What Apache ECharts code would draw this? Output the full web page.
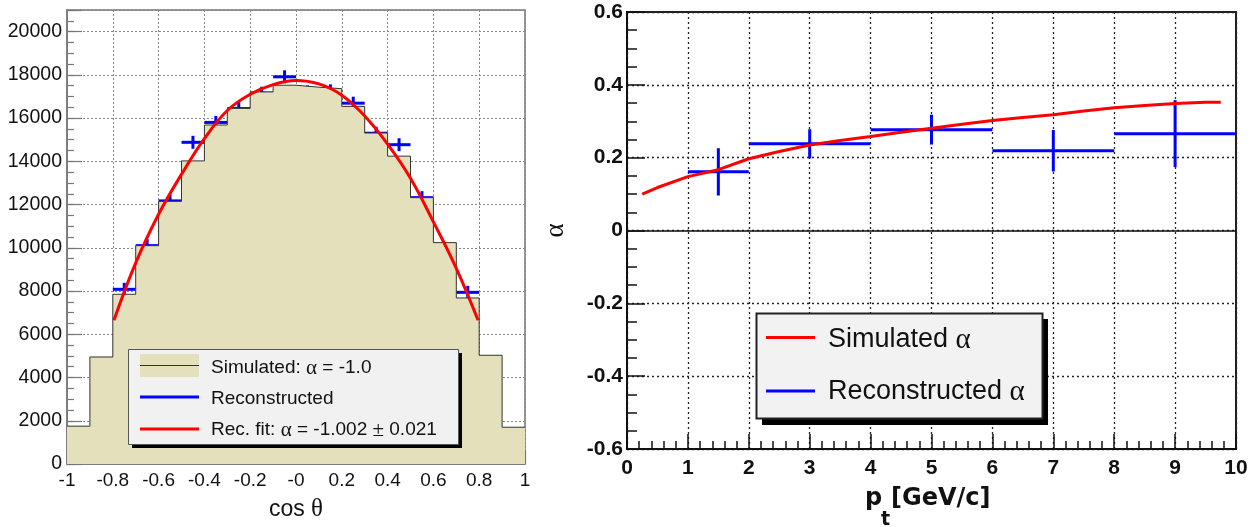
<!DOCTYPE html>
<html>
<head>
<meta charset="utf-8">
<title>cos theta / alpha vs pt</title>
<script src="https://cdn.jsdelivr.net/npm/echarts@6/dist/echarts.min.js"></script>
<style>
  html, body { margin: 0; padding: 0; background: #fff; }
  #chart { width: 1257px; height: 527px; }
</style>
</head>
<body>
<div id="chart"></div>
<script>
// ---- left panel: cos(theta) distribution ----
var binEdges = [-1, -0.9, -0.8, -0.7, -0.6, -0.5, -0.4, -0.3, -0.2, -0.1, 0, 0.1, 0.2, 0.3, 0.4, 0.5, 0.6, 0.7, 0.8, 0.9];
var simCounts = [1750, 4950, 7850, 10100, 12150, 14020, 15680, 16450, 17210, 17520, 17430, 17360, 16540, 15310, 14240, 12320, 10240, 7680, 5030, 1700];
var recoX = [-0.75, -0.65, -0.55, -0.45, -0.35, -0.25, -0.15, -0.05, 0.05, 0.15, 0.25, 0.35, 0.45, 0.55, 0.65, 0.75];
var recoCounts = [8080, 10100, 12170, 14880, 15800, 16440, 17150, 17910, 17210, 17260, 16690, 15300, 14770, 12320, 9680, 7940];
var recoErr = [300, 300, 300, 300, 300, 300, 300, 300, 300, 300, 300, 300, 300, 300, 300, 300];
var fitX = [-0.795, -0.7, -0.6, -0.5, -0.4, -0.3, -0.2, -0.1, 0, 0.1, 0.2, 0.3, 0.4, 0.5, 0.6, 0.7, 0.795];
var fitY = [6650, 9300, 11550, 13400, 15050, 16350, 17100, 17550, 17740, 17580, 17060, 16100, 14800, 13220, 11200, 9050, 6650];
var cosTickLabels = ['-1', '-0.8', '-0.6', '-0.4', '-0.2', '-0', '0.2', '0.4', '0.6', '0.8', '1'];

// ---- right panel: alpha vs pt ----
var ptCenters = [1.5, 3, 5, 7, 9];
var ptHalfWidth = [0.5, 1, 1, 1, 1];
var alphaReco = [0.161, 0.238, 0.277, 0.219, 0.266];
var alphaErr = [0.065, 0.040, 0.041, 0.057, 0.092];
var simPt = [0.25, 0.5, 1, 1.5, 2, 2.5, 3, 3.5, 4, 4.5, 5, 5.5, 6, 6.5, 7, 7.5, 8, 8.5, 9, 9.5, 9.75];
var simAlpha = [0.100, 0.118, 0.148, 0.167, 0.197, 0.217, 0.235, 0.247, 0.258, 0.270, 0.281, 0.292, 0.302, 0.310, 0.318, 0.328, 0.337, 0.343, 0.349, 0.352, 0.352];
var alphaTickLabels = ['-0.6', '-0.4', '-0.2', '0', '0.2', '0.4', '0.6'];

var SANS = 'Liberation Sans, Arial, sans-serif';
var SERIF = 'Liberation Serif, Times New Roman, serif';
var BEIGE = '#e3e0bb';

var chart = echarts.init(document.getElementById('chart'));

// draws an error cross: horizontal bin width + vertical error
function crossItem(params, api) {
    var x = api.value(0), y = api.value(1), dx = api.value(2), dy = api.value(3);
    var l = api.coord([x - dx, y]), r = api.coord([x + dx, y]);
    var t = api.coord([x, y + dy]), b = api.coord([x, y - dy]);
    var style = { stroke: '#0000ff', lineWidth: 3 };
    return {
        type: 'group',
        children: [
            { type: 'line', shape: { x1: l[0], y1: l[1], x2: r[0], y2: r[1] }, style: style },
            { type: 'line', shape: { x1: t[0], y1: t[1], x2: b[0], y2: b[1] }, style: style }
        ]
    };
}

var histData = binEdges.map(function (e, i) { return [e, simCounts[i]]; });
histData.push([1, simCounts[simCounts.length - 1]]);

var leftAxisColor = '#777';
var option = {
    animation: false,
    backgroundColor: '#fff',
    grid: [
        { left: 67, top: 10, width: 458, height: 457, show: true, borderColor: leftAxisColor, borderWidth: 1.5, backgroundColor: '#fff' },
        { left: 627, top: 12, width: 609, height: 437, show: true, borderColor: '#222', borderWidth: 2, backgroundColor: '#fff' }
    ],
    xAxis: [
        {
            gridIndex: 0, type: 'value', min: -1, max: 1, interval: 0.2,
            axisLine: { onZero: false, lineStyle: { color: leftAxisColor, width: 1.5 } },
            axisTick: { inside: true, length: 14, lineStyle: { color: leftAxisColor, width: 1.2 } },
            minorTick: { show: true, splitNumber: 4, length: 7, lineStyle: { color: leftAxisColor, width: 1.2 } },
            axisLabel: {
                fontSize: 19, fontFamily: SANS, color: '#111', margin: 7,
                formatter: function (v) { return cosTickLabels[Math.round((v + 1) / 0.2)]; }
            },
            splitLine: { show: true, lineStyle: { type: [2, 2], color: '#888', width: 1 } },
            name: '{a|cos }{b|θ}', nameLocation: 'middle', nameGap: 33,
            nameTextStyle: {
                rich: {
                    a: { fontSize: 23, fontFamily: SANS, color: '#111' },
                    b: { fontSize: 25, fontFamily: SERIF, color: '#111' }
                }
            }
        },
        {
            gridIndex: 1, type: 'value', min: 0, max: 10, interval: 1,
            axisLine: { onZero: false, lineStyle: { color: '#111', width: 2 } },
            axisTick: { inside: true, length: 15, lineStyle: { color: '#111', width: 1.5 } },
            minorTick: { show: true, splitNumber: 5, length: 8, lineStyle: { color: '#111', width: 1.5 } },
            axisLabel: { fontSize: 21, fontFamily: SANS, fontWeight: 'bold', color: '#111', margin: 9 },
            splitLine: { show: true, lineStyle: { type: [2, 3], color: '#222', width: 1.3 } }
        }
    ],
    yAxis: [
        {
            gridIndex: 0, type: 'value', position: 'left', min: 0, max: 21000, interval: 2000,
            axisLine: { show: true, onZero: false, lineStyle: { color: leftAxisColor, width: 1.5 } },
            axisTick: { inside: true, length: 15, lineStyle: { color: leftAxisColor, width: 1.2 } },
            axisLabel: {
                fontSize: 19.5, fontFamily: SANS, color: '#111', margin: 5, padding: [4, 0, 0, 0],
                formatter: function (v) { return (v % 2000 === 0 && v <= 20000) ? String(v) : ''; }
            },
            splitLine: { show: true, lineStyle: { type: [2, 2], color: '#888', width: 1 } }
        },
        {
            // secondary ticks every 500
            gridIndex: 0, type: 'value', position: 'left', min: 0, max: 21000, interval: 500,
            axisLine: { show: false, onZero: false },
            axisTick: { show: true, inside: true, length: 7, lineStyle: { color: leftAxisColor, width: 1.2 } },
            axisLabel: { show: false },
            splitLine: { show: false }
        },
        {
            gridIndex: 1, type: 'value', position: 'left', min: -0.6, max: 0.6, interval: 0.2,
            axisLine: { show: true, onZero: false, lineStyle: { color: '#111', width: 2 } },
            axisTick: { inside: true, length: 18, lineStyle: { color: '#111', width: 1.5 } },
            minorTick: { show: true, splitNumber: 4, length: 10, lineStyle: { color: '#111', width: 1.5 } },
            axisLabel: {
                fontSize: 21, fontFamily: SANS, fontWeight: 'bold', color: '#111', margin: 4, padding: [6, 0, 0, 0],
                formatter: function (v) { return alphaTickLabels[Math.round((v + 0.6) / 0.2)]; }
            },
            splitLine: { show: true, lineStyle: { type: [2, 3], color: '#222', width: 1.3 } },
            name: 'α', nameLocation: 'middle', nameRotate: 90, nameGap: 58,
            nameTextStyle: { fontSize: 27, fontFamily: SERIF, color: '#111' }
        }
    ],
    series: [
        {
            name: 'Simulated', type: 'line', xAxisIndex: 0, yAxisIndex: 0,
            step: 'end', symbol: 'none', data: histData,
            lineStyle: { color: '#333', width: 1 },
            areaStyle: { color: BEIGE, opacity: 1 }
        },
        {
            name: 'Reconstructed', type: 'custom', xAxisIndex: 0, yAxisIndex: 0,
            renderItem: crossItem,
            data: recoX.map(function (x, i) { return [x, recoCounts[i], 0.05, recoErr[i]]; })
        },
        {
            name: 'Rec. fit', type: 'line', xAxisIndex: 0, yAxisIndex: 0,
            smooth: 0.4, symbol: 'none',
            data: fitX.map(function (x, i) { return [x, fitY[i]]; }),
            lineStyle: { color: '#ff0000', width: 3 }
        },
        {
            name: 'Reconstructed alpha', type: 'custom', xAxisIndex: 1, yAxisIndex: 2,
            renderItem: crossItem,
            data: ptCenters.map(function (x, i) { return [x, alphaReco[i], ptHalfWidth[i], alphaErr[i]]; })
        },
        {
            name: 'Simulated alpha', type: 'line', xAxisIndex: 1, yAxisIndex: 2,
            symbol: 'none',
            data: simPt.map(function (x, i) { return [x, simAlpha[i]]; }),
            lineStyle: { color: '#ff0000', width: 3 },
            markLine: {
                silent: true, symbol: ['none', 'none'], label: { show: false },
                lineStyle: { color: '#111', width: 1.5, type: 'solid' },
                data: [{ yAxis: 0 }]
            }
        }
    ],
    graphic: [
        // left legend
        { type: 'rect', z: 100, shape: { x: 132, y: 353, width: 330, height: 95 }, style: { fill: '#000' } },
        { type: 'rect', z: 101, shape: { x: 128.5, y: 349.5, width: 330, height: 95 }, style: { fill: '#f1f1f1', stroke: '#555', lineWidth: 1 } },
        { type: 'rect', z: 102, shape: { x: 140, y: 354, width: 59, height: 23 }, style: { fill: BEIGE } },
        { type: 'line', z: 103, shape: { x1: 140, y1: 365.5, x2: 199, y2: 365.5 }, style: { stroke: '#333', lineWidth: 1 } },
        { type: 'line', z: 103, shape: { x1: 140, y1: 397, x2: 199, y2: 397 }, style: { stroke: '#0000ff', lineWidth: 3 } },
        { type: 'line', z: 103, shape: { x1: 140, y1: 429, x2: 199, y2: 429 }, style: { stroke: '#ff0000', lineWidth: 3 } },
        {
            type: 'text', z: 103, x: 211, y: 368,
            style: {
                text: '{n|Simulated: }{g|α}{n| = -1.0}', verticalAlign: 'middle',
                rich: { n: { fontSize: 19, fontFamily: SANS, fill: '#111' }, g: { fontSize: 21, fontFamily: SERIF, fill: '#111' } }
            }
        },
        {
            type: 'text', z: 103, x: 211, y: 398.5,
            style: { text: 'Reconstructed', verticalAlign: 'middle', fontSize: 19, fontFamily: SANS, fill: '#111' }
        },
        {
            type: 'text', z: 103, x: 211, y: 430,
            style: {
                text: '{n|Rec. fit: }{g|α}{n| = -1.002 }{g|±}{n| 0.021}', verticalAlign: 'middle',
                rich: { n: { fontSize: 19, fontFamily: SANS, fill: '#111' }, g: { fontSize: 21, fontFamily: SERIF, fill: '#111' } }
            }
        },
        // right legend
        { type: 'rect', z: 100, shape: { x: 762, y: 319, width: 286, height: 106 }, style: { fill: '#000' } },
        { type: 'rect', z: 101, shape: { x: 756.5, y: 313.5, width: 286, height: 105 }, style: { fill: '#f2f2f2', stroke: '#222', lineWidth: 2 } },
        { type: 'line', z: 103, shape: { x1: 766, y1: 337.5, x2: 815, y2: 337.5 }, style: { stroke: '#ff0000', lineWidth: 3 } },
        { type: 'line', z: 103, shape: { x1: 766, y1: 391, x2: 815, y2: 391 }, style: { stroke: '#0000ff', lineWidth: 3 } },
        {
            type: 'text', z: 103, x: 828, y: 340,
            style: {
                text: '{n|Simulated }{g|α}', verticalAlign: 'middle',
                rich: { n: { fontSize: 27, fontFamily: SANS, fill: '#111' }, g: { fontSize: 29, fontFamily: SERIF, fill: '#111' } }
            }
        },
        {
            type: 'text', z: 103, x: 828, y: 392,
            style: {
                text: '{n|Reconstructed }{g|α}', verticalAlign: 'middle',
                rich: { n: { fontSize: 27, fontFamily: SANS, fill: '#111' }, g: { fontSize: 29, fontFamily: SERIF, fill: '#111' } }
            }
        },
        // right x axis title: p_t [GeV/c]
        { type: 'text', z: 103, x: 865, y: 499, style: { text: 'p', verticalAlign: 'middle', fontSize: 24, fontWeight: 'bold', fontFamily: 'DejaVu Sans, sans-serif', fill: '#111' } },
        { type: 'text', z: 103, x: 881, y: 520, style: { text: 't', verticalAlign: 'middle', fontSize: 19, fontWeight: 'bold', fontFamily: 'DejaVu Sans, sans-serif', fill: '#111' } },
        { type: 'text', z: 103, x: 891, y: 499, style: { text: '[GeV/c]', verticalAlign: 'middle', fontSize: 24, fontWeight: 'bold', fontFamily: 'DejaVu Sans, sans-serif', fill: '#111' } }
    ]
};

chart.setOption(option);
</script>
</body>
</html>
